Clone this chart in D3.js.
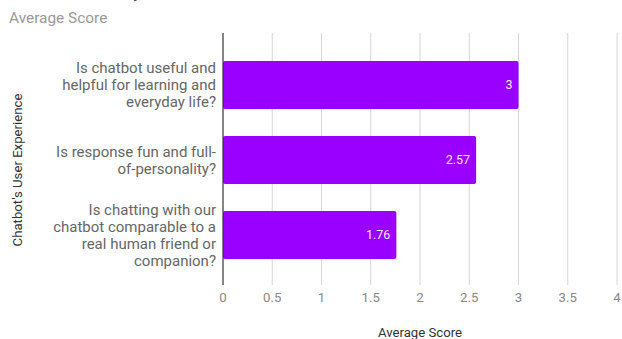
<!DOCTYPE html>
<html>
<head>
<meta charset="utf-8">
<script src="https://cdn.jsdelivr.net/npm/d3@7"></script>
<style>
  html, body { margin: 0; padding: 0; background: #fff; }
  svg { display: block; font-family: Roboto, "Noto Sans", Arial, sans-serif; }
</style>
</head>
<body>
<svg id="chart" width="622" height="339"></svg>
<script>
// Survey questions (one per line of the wrapped label)
const questions = [
  ["Is chatbot useful and", "helpful for learning and", "everyday life?"],
  ["Is response fun and full-", "of-personality?"],
  ["Is chatting with our", "chatbot comparable to a", "real human friend or", "companion?"]
];
const averageScores = [3, 2.57, 1.76];
const scoreTicks = [0, 0.5, 1, 1.5, 2, 2.5, 3, 3.5, 4];

const svg = d3.select("#chart");
const plot = { left: 223, right: 617, top: 33, bottom: 285 };

const x = d3.scaleLinear().domain([0, 4]).range([plot.left, plot.right]);
const y = d3.scaleBand()
  .domain(d3.range(questions.length))
  .range([plot.top + 2, plot.bottom])
  .paddingInner(0.36)
  .paddingOuter(0.347);

// Chart title (sits at the top edge) and subtitle
svg.append("text")
  .attr("x", 8).attr("y", -2)
  .attr("font-size", 16).attr("font-weight", "bold")
  .attr("fill", "#444")
  .text("Chatbot's User Experience");
svg.append("text")
  .attr("x", 9).attr("y", 23)
  .attr("font-size", 15.4).attr("fill", "#999")
  .text("Average Score");

// Vertical gridlines
svg.append("g")
  .selectAll("line")
  .data(scoreTicks.slice(1))
  .join("line")
  .attr("x1", d => x(d)).attr("x2", d => x(d))
  .attr("y1", plot.top).attr("y2", plot.bottom)
  .attr("stroke", "#d6d6d6").attr("stroke-width", 1);

// Bars
svg.append("g")
  .selectAll("rect")
  .data(averageScores)
  .join("rect")
  .attr("x", x(0))
  .attr("y", (d, i) => y(i))
  .attr("width", d => x(d) - x(0))
  .attr("height", y.bandwidth())
  .attr("rx", 2)
  .attr("fill", "#9900ff");

// Value labels inside bar ends
svg.append("g")
  .selectAll("text")
  .data(averageScores)
  .join("text")
  .attr("x", d => x(d) - 6)
  .attr("y", (d, i) => y(i) + y.bandwidth() / 2)
  .attr("dy", "0.35em")
  .attr("text-anchor", "end")
  .attr("font-size", 12.5)
  .attr("fill", "#f3e6ff")
  .text(d => d3.format("~g")(d));

// Baseline axis
svg.append("line")
  .attr("x1", x(0)).attr("x2", x(0))
  .attr("y1", plot.top).attr("y2", plot.bottom)
  .attr("stroke", "#333").attr("stroke-width", 1.2);

// Category labels
const lineH = 17;
const cat = svg.append("g");
questions.forEach((lines, i) => {
  const cy = y(i) + y.bandwidth() / 2;
  const startY = cy - (lines.length - 1) * lineH / 2;
  const t = cat.append("text")
    .attr("text-anchor", "end")
    .attr("font-size", 15)
    .attr("fill", "#666");
  lines.forEach((ln, k) => {
    t.append("tspan")
      .attr("x", 216)
      .attr("y", startY + k * lineH)
      .attr("dy", "0.35em")
      .text(ln);
  });
});

// Score tick labels
svg.append("g")
  .selectAll("text")
  .data(scoreTicks)
  .join("text")
  .attr("x", d => x(d))
  .attr("y", 302)
  .attr("text-anchor", "middle")
  .attr("font-size", 13.2)
  .attr("fill", "#888")
  .text(d => d3.format("~g")(d));

// Axis titles
svg.append("text")
  .attr("x", x(2)).attr("y", 337)
  .attr("text-anchor", "middle")
  .attr("font-size", 13.2).attr("fill", "#333")
  .text("Average Score");

svg.append("text")
  .attr("transform", `translate(22, 170) rotate(-90)`)
  .attr("text-anchor", "middle")
  .attr("font-size", 13.2).attr("fill", "#333")
  .text("Chatbot's User Experience");
</script>
</body>
</html>
